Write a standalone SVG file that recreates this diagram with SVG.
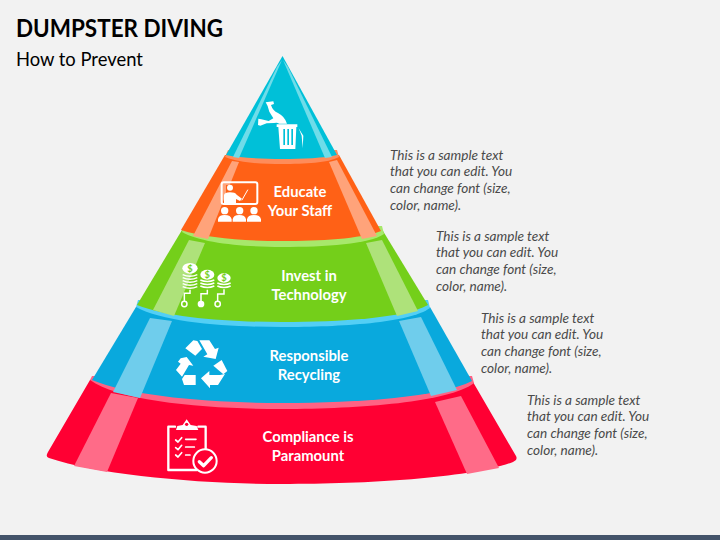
<svg xmlns="http://www.w3.org/2000/svg" width="720" height="540" viewBox="0 0 720 540">
<style>
.t{font-family:"Lato","Noto Sans","Liberation Sans",sans-serif}
.lab{font-size:14.8px;font-weight:700;fill:#fff;text-anchor:middle}
.side{font-size:13.6px;font-style:italic;fill:#4a4a4a}
.w{fill:#fff}
.ws{fill:none;stroke:#fff;stroke-linecap:round;stroke-linejoin:round}
</style>
<rect width="720" height="540" fill="#f2f2f2"/>
<rect y="535" width="720" height="5" fill="#44546a"/>
<g id="title">
<text class="t" x="16" y="37" font-size="24" font-weight="700" fill="#000" textLength="207" lengthAdjust="spacingAndGlyphs">DUMPSTER DIVING</text>
<text class="t" x="16" y="66" font-size="18.400" fill="#000">How to Prevent</text>
</g>
<g id="tier-compliance">
<path fill="#ff0033" d="M90 380L48 452Q45 457 49 458C100 475 200 484 282 484C370 484 470 478 513 462Q518 460 516 456L473 382Z"/>
<path fill="#ff6384" d="M90 380C120 402 210 409 282 409C360 409 450 402 474 383L472 376L92 376Z"/>
<path fill="#ff6b88" d="M111 393L138 398L107 472L74 466Z"/>
<path fill="#ff6b88" d="M435 402L461 396L499 468L467 474Z"/>
<g transform="translate(40 375) scale(.33333)">
<path class="ws" stroke-width="7" d="M405 155H385V285H470M475 155H497V222"/>
<path class="w" d="M408 165L412 153L428 150L440 133L452 150L470 153L475 165Z"/>
<circle cx="440" cy="148" r="5" fill="#ff0033"/>
<path class="ws" stroke-width="5" d="M407 195L414 201L425 188M407 218L414 224L425 211M407 240L414 246L425 233"/>
<path class="ws" stroke-width="5" d="M437 193H468M437 216H463M437 240H450"/>
<circle cx="495" cy="258" r="35" fill="#ff0033" stroke="#fff" stroke-width="6"/>
<path class="ws" stroke-width="10" d="M478 260L491 272L514 248"/>
</g>
<text class="t lab" x="308" y="442">Compliance is</text>
<text class="t lab" x="308" y="461">Paramount</text>
</g>
<g id="tier-recycling">
<path fill="#09a9dd" d="M136 307L92 380C130 396 210 403 282 403C360 403 440 397 472 381L430 307Z"/>
<path fill="#53cff5" d="M136 307C165 323 230 327 282 327C340 327 410 323 430 308L428 300L138 300Z"/>
<path fill="#6fcdec" d="M150 318L172 321L140 398L113 392Z"/>
<path fill="#6fcdec" d="M399 321L421 317L457 390L431 396Z"/>
<g transform="translate(170 335) scale(.33333)">
<path class="w" d="M46 40L70 16L82 18L96 42L76 62Z"/>
<path class="w" d="M88 16H118L135 42L146 38L137 72L100 65L112 58Z"/>
<path class="w" d="M18 105L32 86L24 80L32 70L50 66L70 92L57 90L36 125Z"/>
<path class="w" d="M36 132L44 120H77V150H42Z"/>
<path class="w" d="M130 92L155 75L172 108L160 118Z"/>
<path class="w" d="M93 130L118 108V120H150L165 117L144 150H120V160Z"/>
</g>
<text class="t lab" x="309" y="361">Responsible</text>
<text class="t lab" x="309" y="380">Recycling</text>
</g>
<g id="tier-technology">
<path fill="#74cf1a" d="M182 230L137 305C170 318 230 322 282 322C340 322 405 318 428 305L383 231Z"/>
<path fill="#a7e86b" d="M182 232C200 243 245 247 282 247C325 247 370 244 384 234L382 226L184 226Z"/>
<path fill="#aee27a" d="M189 240L205 243L174 316L153 310Z"/>
<path fill="#aee27a" d="M366 243L382 240L418 311L397 316Z"/>
<g transform="translate(175 258) scale(.33333)">
<g fill="none" stroke="#fff" stroke-width="4.500">
<path d="M23 50Q45 60 67 50M23 59Q45 69 67 59M23 68Q45 78 67 68M23 77Q45 87 67 77M23 86Q45 96 67 86"/>
<path d="M76 66Q97 75 118 66M76 75Q97 84 118 75M76 84Q97 93 118 84"/>
<path d="M127 75Q147 84 167 75M127 84Q147 93 167 84"/>
<path d="M45 95V106H28V130M97 95V107H78V130M147 94V108H128V130"/>
<circle cx="28" cy="138" r="8"/><circle cx="128" cy="138" r="8"/>
</g>
<circle cx="78" cy="138" r="10" class="w"/>
<ellipse cx="45" cy="31" rx="23" ry="16" class="w"/>
<ellipse cx="97" cy="50" rx="21" ry="15" class="w"/>
<ellipse cx="147" cy="60" rx="20" ry="14" class="w"/>
<g class="t" font-size="28" font-weight="700" fill="#74cf1a" text-anchor="middle">
<text x="45" y="41">$</text><text x="97" y="60">$</text><text x="147" y="70">$</text>
</g>
</g>
<text class="t lab" x="309" y="281">Invest in</text>
<text class="t lab" x="309" y="300">Technology</text>
</g>
<g id="tier-educate">
<path fill="#ff6116" d="M225 155L181 230C205 238 245 241 282 241C320 241 360 239 381 231L339 155Z"/>
<path fill="#ff8c5a" d="M225 157C240 163 262 164 282 164C305 164 328 163 339 157L337 150L228 150Z"/>
<path fill="#ffa37a" d="M232 161L239 162L208 239L193 236Z"/>
<path fill="#ffa37a" d="M329 162L337 160L377 236L362 239Z"/>
<g transform="translate(180 50) scale(.33333)">
<rect x="125" y="397" width="107" height="65" rx="6" fill="none" stroke="#fff" stroke-width="6"/>
<rect x="138" y="405" width="30" height="58" fill="#ff6116"/>
<circle cx="150" cy="413" r="9" class="w"/>
<path class="w" d="M132 465V435Q134 427 150 427Q165 427 170 434L186 446L180 453L168 447V465Z"/>
<path class="ws" stroke-width="3" d="M186 450L203 420"/>
<circle cx="134" cy="482" r="11" class="w"/><circle cx="179" cy="482" r="11" class="w"/><circle cx="222" cy="482" r="11" class="w"/>
<path class="w" d="M114 515V508Q116 495 134 495Q153 495 155 508V515ZM158 515V508Q160 495 178 495Q196 495 198 508V515ZM201 515V508Q203 495 222 495Q241 495 243 508V515Z"/>
</g>
<text class="t lab" x="300" y="197">Educate</text>
<text class="t lab" x="300" y="216">Your Staff</text>
</g>
<g id="tier-top">
<path fill="#00c0d8" d="M282.500 56L226 155C240 158 262 159 282 159C302 159 325 158 337 155Z"/>
<path fill="#6fdce9" d="M277 67L233 157L239 158L282 60Z"/>
<path fill="#6fdce9" d="M283 60L325 158L332 157L288 67Z"/>
<g transform="translate(250 95) scale(.33333)">
<path class="w" d="M47 22L70 19L72 27L63 30Q68 47 84 54Q104 64 111 86L87 86Q84 82 72 84L50 85L31 92L24 90L25 71L34 73L56 78L70 70L58 50Q54 32 47 22Z"/>
<path class="w" d="M80 88H142V96H139L136 162H90L85 96H80Z"/>
<path fill="#00c0d8" d="M100 102h5v48h-5zM112 102h5v48h-5zM124 102h5v48h-5z"/>
<path class="w" d="M146 100L160 122L158 160L155 122Z"/>
</g>
</g>
<g id="note-1" class="t side"><text x="390" y="159.500">This is a sample text</text><text x="390" y="176">that you can edit. You</text><text x="390" y="192.500">can change font (size,</text><text x="390" y="209.500">color, name).</text></g>
<g id="note-2" class="t side"><text x="436" y="240.500">This is a sample text</text><text x="436" y="257">that you can edit. You</text><text x="436" y="273.500">can change font (size,</text><text x="436" y="290.500">color, name).</text></g>
<g id="note-3" class="t side"><text x="481" y="322.500">This is a sample text</text><text x="481" y="339">that you can edit. You</text><text x="481" y="355.500">can change font (size,</text><text x="481" y="372.500">color, name).</text></g>
<g id="note-4" class="t side"><text x="527" y="404.500">This is a sample text</text><text x="527" y="421">that you can edit. You</text><text x="527" y="437.500">can change font (size,</text><text x="527" y="454.500">color, name).</text></g>
</svg>
